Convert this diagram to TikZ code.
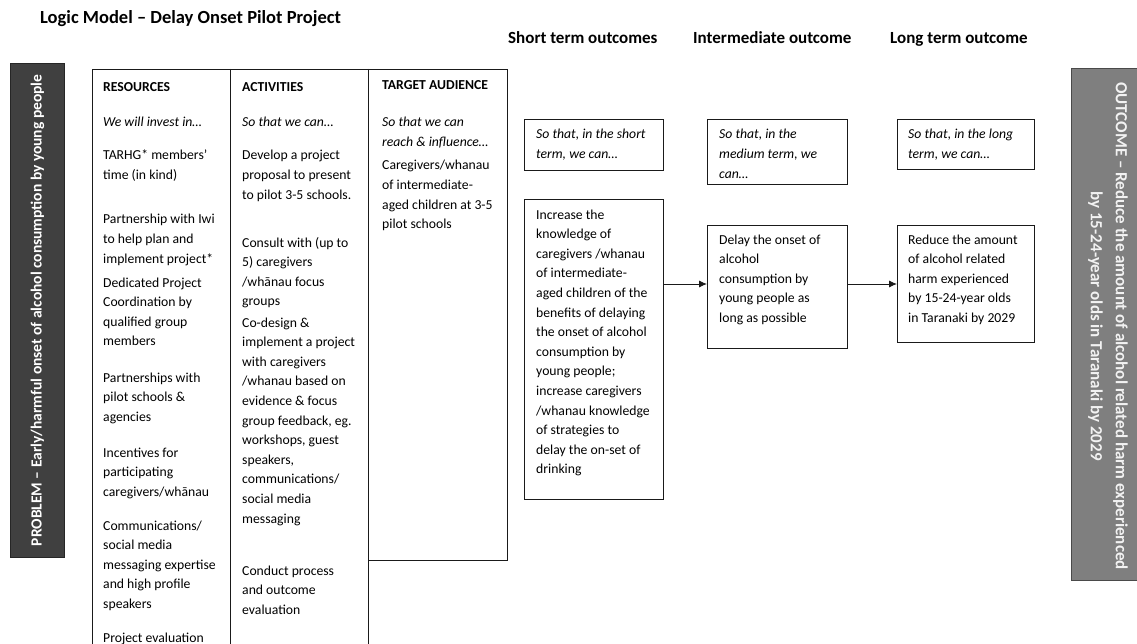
\documentclass[tikz,border=0pt]{standalone}
\usepackage{fontspec}
\setmainfont{Carlito}
\usetikzlibrary{arrows.meta}
\definecolor{darkbar}{HTML}{404040}
\definecolor{darkbarline}{HTML}{262626}
\definecolor{midbar}{HTML}{7F7F7F}
\definecolor{midbarline}{HTML}{4A4A4A}
\definecolor{bartext}{HTML}{F2F2F2}
\definecolor{inkline}{HTML}{1A1A1A}
\begin{document}
\begin{tikzpicture}[x=1pt,y=-1pt,
  txt/.style={anchor=base west, inner sep=0pt, align=left, font=\fontsize{13.7}{19.6}\selectfont},
  ital/.style={txt, font=\fontsize{13.7}{19.6}\selectfont\itshape},
  nl/.style={yshift={-(#1-1)*19.6pt}},
  colhead/.style={anchor=base west, inner sep=0pt, font=\fontsize{13.7}{19.6}\selectfont\bfseries},
  stagehead/.style={anchor=base west, inner sep=0pt, font=\fontsize{17}{20}\selectfont\bfseries},
  titlestyle/.style={anchor=base west, inner sep=0pt, font=\fontsize{18.5}{22}\selectfont\bfseries},
  outbox/.style={draw=inkline, line width=0.9pt, anchor=north west, inner sep=0pt},
  tline/.style={draw=inkline, line width=0.9pt},
  flow/.style={draw=inkline, line width=0.9pt, -{Latex[length=8pt,width=7pt]}}
]
\useasboundingbox (0,0) rectangle (1137,644);

% title and stage headers
\node[titlestyle] (title) at (40,24) {Logic Model – Delay Onset Pilot Project};
\node[stagehead] (hshort) at (508,44) {Short term outcomes};
\node[stagehead] (hmid) at (693,44) {Intermediate outcome};
\node[stagehead] (hlong) at (890,44) {Long term outcome};

% problem bar
\node[fill=darkbar, draw=darkbarline, line width=0.8pt, anchor=north west, minimum width=54pt, minimum height=494pt, inner sep=0pt] (problem) at (10,63) {};
\node[rotate=90, text=white, font=\fontsize{15.5}{18}\selectfont\bfseries, inner sep=0pt] (problemtxt) at (problem.center) {PROBLEM – Early/harmful onset of alcohol consumption by young people};

% outcome bar
\node[fill=midbar, draw=midbarline, line width=0.8pt, anchor=north west, minimum width=75pt, minimum height=512pt, inner sep=0pt] (outcome) at (1071,68) {};
\node[rotate=-90, text=bartext, align=center, font=\fontsize{17}{25}\selectfont\bfseries, inner sep=0pt] (outcometxt) at (1108,326) {OUTCOME – Reduce the amount of alcohol related harm experienced\\by 15-24-year olds in Taranaki by 2029};

% table frame
\coordinate (tl) at (92,69);
\coordinate (d1) at (230,69);
\coordinate (d2) at (368,69);
\coordinate (tr) at (507,69);
\coordinate (bl) at (92,650);
\coordinate (b1) at (230,650);
\coordinate (b2) at (368,650);
\coordinate (tab) at (368,560);
\coordinate (tbr) at (507,560);
\draw[tline] (bl) -- (tl) -- (tr) -- (tbr) -- (tab);
\draw[tline] (d1) -- (b1);
\draw[tline] (d2) -- (b2);

% resources column
\node[colhead] (reshead) at (103,92) {RESOURCES};
\node[ital] (resi) at (103,127) {We will invest in…};
\node[txt, nl=2] (res1) at (103,160) {TARHG* members’\\time (in kind)};
\node[txt, nl=3] (res2) at (103,224) {Partnership with Iwi\\to help plan and\\implement project*};
\node[txt, nl=4] (res3) at (103,287) {Dedicated Project\\Coordination by\\qualified group\\members};
\node[txt, nl=3] (res4) at (103,382) {Partnerships with\\pilot schools \&\\agencies};
\node[txt, nl=3] (res5) at (103,457) {Incentives for\\participating\\caregivers/whānau};
\node[txt, nl=5] (res6) at (103,530) {Communications/\\social media\\messaging expertise\\and high profile\\speakers};
\node[txt] (res7) at (103,642) {Project evaluation};

% activities column
\node[colhead] (acthead) at (242,92) {ACTIVITIES};
\node[ital] (acti) at (242,127) {So that we can…};
\node[txt, nl=3] (act1) at (242,160) {Develop a project\\proposal to present\\to pilot 3-5 schools.};
\node[txt, nl=4] (act2) at (242,247) {Consult with (up to\\5) caregivers\\/whānau focus\\groups};
\node[txt, nl=11] (act3) at (242,327) {Co-design \&\\implement a project\\with caregivers\\/whanau based on\\evidence \& focus\\group feedback, eg.\\workshops, guest\\speakers,\\communications/\\social media\\messaging};
\node[txt, nl=3] (act4) at (242,575) {Conduct process\\and outcome\\evaluation};

% target audience column
\node[colhead] (tarhead) at (382,90) {TARGET AUDIENCE};
\node[ital, nl=2] (tari) at (382,127) {So that we can\\reach \& influence…};
\node[txt, nl=4] (tar1) at (382,170) {Caregivers/whanau\\of intermediate-\\aged children at 3-5\\pilot schools};

% outcome boxes
\node[outbox, minimum width=139pt, minimum height=51pt] (si) at (524,119) {};
\node[outbox, minimum width=140pt, minimum height=65pt] (mi) at (707,119) {};
\node[outbox, minimum width=137pt, minimum height=50pt] (li) at (897,119) {};
\node[ital, nl=2] (sitxt) at (536,139) {So that, in the short\\term, we can…};
\node[ital, nl=3] (mitxt) at (719,139) {So that, in the\\medium term, we\\can…};
\node[ital, nl=2] (litxt) at (908,139) {So that, in the long\\term, we can…};

\node[outbox, minimum width=139pt, minimum height=300pt] (sm) at (524,199) {};
\node[outbox, minimum width=140pt, minimum height=123pt] (mm) at (707,225) {};
\node[outbox, minimum width=137pt, minimum height=117pt] (lm) at (897,225) {};
\node[txt, nl=14] (smtxt) at (536,219) {Increase the\\knowledge of\\caregivers /whanau\\of intermediate-\\aged children of the\\benefits of delaying\\the onset of alcohol\\consumption by\\young people;\\increase caregivers\\/whanau knowledge\\of strategies to\\delay the on-set of\\drinking};
\node[txt, nl=5] (mmtxt) at (719,244) {Delay the onset of\\alcohol\\consumption by\\young people as\\long as possible};
\node[txt, nl=5] (lmtxt) at (908,244) {Reduce the amount\\of alcohol related\\harm experienced\\by 15-24-year olds\\in Taranaki by 2029};

% arrows
\coordinate (arrowrow) at (0,284);
\draw[flow] (sm.east |- arrowrow) -- (mm.west |- arrowrow);
\draw[flow] (mm.east |- arrowrow) -- (lm.west |- arrowrow);
\end{tikzpicture}
\end{document}
